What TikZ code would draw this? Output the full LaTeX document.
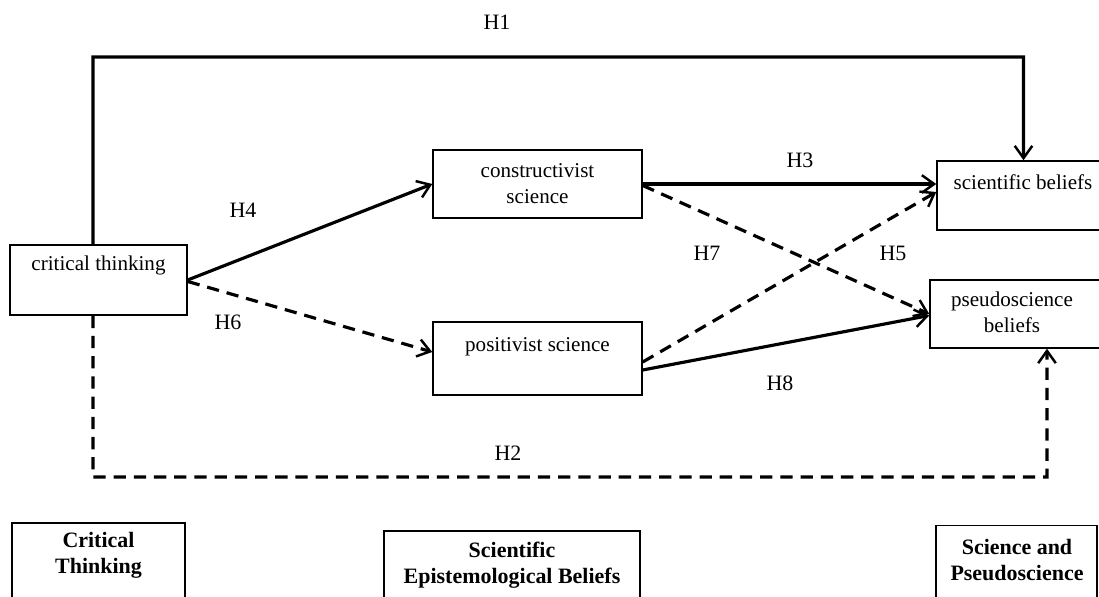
\documentclass[tikz,border=0pt]{standalone}
\usepackage{fontspec}
\setmainfont{Liberation Serif}
\usetikzlibrary{arrows.meta}

\begin{document}
\begin{tikzpicture}[x=0.02cm,y=-0.02cm,
    box/.style={draw,line width=0.85pt,inner sep=0pt},
    txt/.style={font=\fontsize{12}{15}\selectfont,align=center},
    head/.style={font=\fontsize{12.5}{15}\selectfont\bfseries,align=center},
    hyp/.style={font=\fontsize{12.5}{14}\selectfont},
    link/.style={line width=1.8pt,-{Straight Barb[length=7pt,width=10pt,line width=1.4pt]}},
    broken/.style={dash pattern=on 7pt off 4.5pt}]
  \useasboundingbox (0,0) rectangle (1099,597);

  % boxes
  \node[box,minimum width=3.54cm,minimum height=1.4cm] (ct) at (98.5,280) {};
  \node[box,minimum width=4.18cm,minimum height=1.36cm] (cs) at (537.5,184) {};
  \node[box,minimum width=4.18cm,minimum height=1.46cm] (ps) at (537.5,358.5) {};
  \node[box,minimum width=3.46cm,minimum height=1.38cm] (sb) at (1023.5,195.5) {};
  \node[box,minimum width=3.44cm,minimum height=1.36cm] (pb) at (1016,314) {};

  \node[txt] (ctT) at (98.5,265) {critical thinking};
  \node[txt] (csT) at (537.5,183.5) {constructivist\\science};
  \node[txt] (psT) at (537.5,347) {positivist science};
  \node[txt] (sbT) at (1023,182) {scientific beliefs};
  \node[txt] (pbT) at (1012,312) {pseudoscience\\beliefs};

  % bottom headings
  \node[box,minimum width=3.46cm,minimum height=1.64cm] (bct) at (98.5,564) {};
  \node[box,minimum width=5.12cm,minimum height=1.48cm] (bse) at (512,568) {};
  \node[box,minimum width=3.22cm,minimum height=1.58cm] (bsp) at (1016.5,565) {};
  \node[head] (bctT) at (98.5,555) {Critical\\Thinking};
  \node[head] (bseT) at (512,565) {Scientific\\Epistemological Beliefs};
  \node[head] (bspT) at (1017,560) {Science and\\Pseudoscience};

  % paths
  \coordinate (t1) at (93,57);
  \coordinate (b2) at (93,477);
  \draw[link] ([xshift=-0.11cm]ct.north) -- (t1) -| (sb.north);
  \draw[link,broken] ([xshift=-0.11cm]ct.south) -- (b2) -| ([xshift=0.62cm]pb.south);
  \draw[link] (ct.east) -- (cs.west);
  \draw[link,broken] ([yshift=-0.03cm]ct.east) -- ([yshift=0.13cm]ps.west);
  \draw[link] (cs.east) -- (cs.east -| sb.west);
  \draw[link,broken] ([yshift=-0.03cm]cs.east) -- (pb.west);
  \draw[link,broken] ([yshift=-0.07cm]ps.east) -- ([yshift=0.07cm]sb.west);
  \draw[link] ([yshift=-0.23cm]ps.east) -- ([yshift=-0.03cm]pb.west);

  % labels
  \node[hyp] (h1) at (497,22) {H1};
  \node[hyp] (h2) at (508,453) {H2};
  \node[hyp] (h3) at (800,160) {H3};
  \node[hyp] (h4) at (243,210) {H4};
  \node[hyp] (h5) at (893,253) {H5};
  \node[hyp] (h6) at (228,322) {H6};
  \node[hyp] (h7) at (707,253) {H7};
  \node[hyp] (h8) at (780,383) {H8};
\end{tikzpicture}
\end{document}
